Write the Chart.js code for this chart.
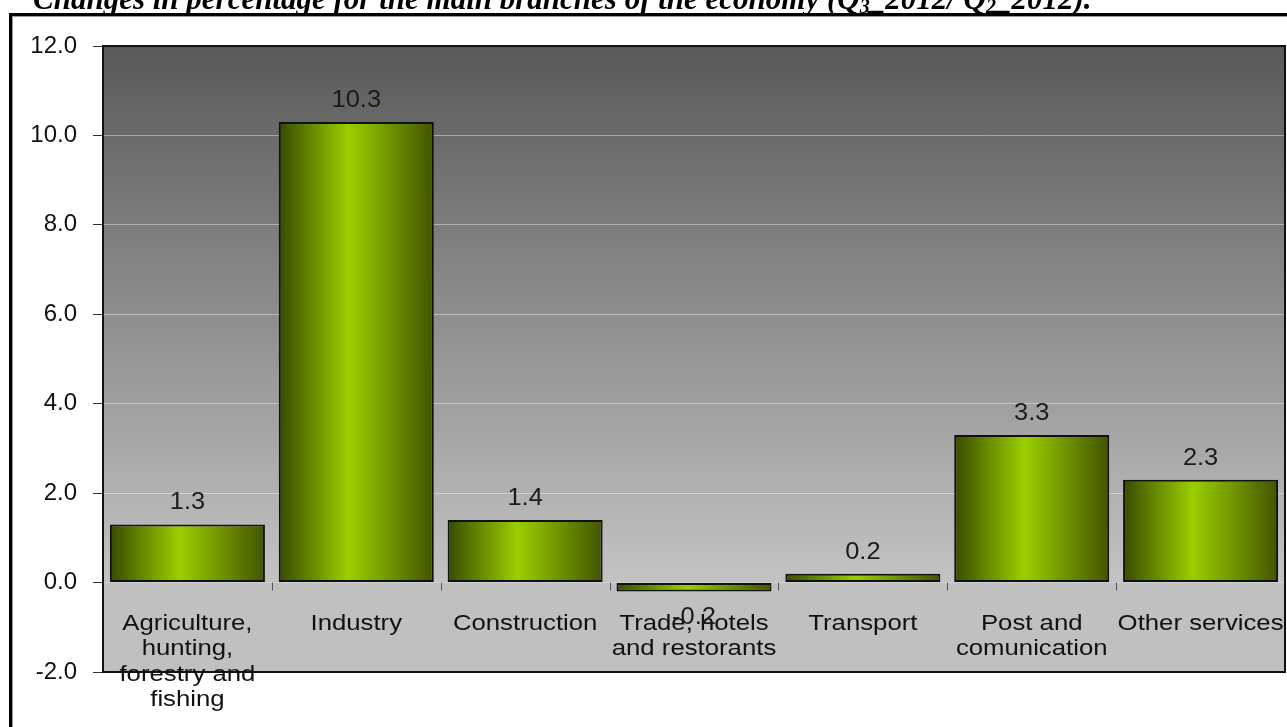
<!DOCTYPE html>
<html><head><meta charset="utf-8">
<script src="https://cdn.jsdelivr.net/npm/chart.js@4.4.0/dist/chart.umd.min.js"></script>
<style>html,body{margin:0;padding:0;background:#fff;overflow:hidden}canvas{display:block}</style>
</head><body>
<canvas id="c" width="1287" height="727"></canvas>
<script>
const categories = [
  ["Agriculture,", "hunting,", "forestry and", "fishing"],
  ["Industry"],
  ["Construction"],
  ["Trade, hotels", "and restorants"],
  ["Transport"],
  ["Post and", "comunication"],
  ["Other services"]
];
const values = [1.3, 10.3, 1.4, -0.2, 0.2, 3.3, 2.3];
const yMin = -2, yMax = 12, yStep = 2;
const titleParts = [
  ["Changes in percentage for the main branches of the economy (Q", false],
  ["3", true],
  ["_2012/ Q", false],
  ["2", true],
  ["_2012).", false]
];

const BAR_PCT = 0.918;
const SANS = '"Liberation Sans", Arial, sans-serif';

function barFill(c) {
  const chart = c.chart, xs = chart.scales.x;
  if (!xs || !xs.width) return '#8fbf00';
  const cw = xs.width / categories.length, w = cw * BAR_PCT;
  const cx = xs.getPixelForValue(c.dataIndex);
  const g = chart.ctx.createLinearGradient(cx - w / 2, 0, cx + w / 2, 0);
  g.addColorStop(0, '#384a00');
  g.addColorStop(0.45, '#9bcf00');
  g.addColorStop(1, '#425400');
  return g;
}

const decor = {
  id: 'decor',
  beforeDraw(chart) {
    const ctx = chart.ctx, a = chart.chartArea, ys = chart.scales.y;
    const y0 = ys.getPixelForValue(0);
    ctx.save();
    // title (cut at top)
    ctx.fillStyle = '#000';
    ctx.textBaseline = 'alphabetic';
    let x = 33;
    for (const [t, sub] of titleParts) {
      ctx.font = sub ? 'bold italic 20px "Liberation Serif", "Times New Roman", serif'
                     : 'bold italic 31px "Liberation Serif", "Times New Roman", serif';
      ctx.fillText(t, x, sub ? 13 : 9);
      x += ctx.measureText(t).width;
    }
    // outer frame
    ctx.fillStyle = '#000';
    ctx.fillRect(9, 13, 1290, 3);
    ctx.fillRect(9, 13, 3, 720);
    ctx.fillStyle = '#9a9a9a';
    ctx.fillRect(12, 16, 1290, 1);
    ctx.fillRect(12, 16, 1, 720);
    // plot background
    const g = ctx.createLinearGradient(0, a.top, 0, y0);
    g.addColorStop(0, '#595959');
    g.addColorStop(1, '#c3c3c3');
    ctx.fillStyle = g;
    ctx.fillRect(a.left, a.top, a.right - a.left, y0 - a.top);
    ctx.fillStyle = '#c0c0c0';
    ctx.fillRect(a.left, y0, a.right - a.left, a.bottom - y0);
    ctx.restore();
  },
  afterDatasetsDraw(chart) {
    const ctx = chart.ctx, a = chart.chartArea, xs = chart.scales.x, ys = chart.scales.y;
    const y0 = ys.getPixelForValue(0);
    const cw = xs.width / categories.length;
    ctx.save();
    // category boundary ticks at zero line
    ctx.strokeStyle = '#555';
    ctx.lineWidth = 1;
    for (let i = 1; i < categories.length; i++) {
      const bx = Math.round(xs.getPixelForValue(i) - cw / 2) + 0.5;
      ctx.beginPath(); ctx.moveTo(bx, y0); ctx.lineTo(bx, y0 + 8); ctx.stroke();
    }
    // category labels
    ctx.fillStyle = '#111';
    ctx.textAlign = 'center';
    ctx.textBaseline = 'alphabetic';
    ctx.font = '22px ' + SANS;
    categories.forEach((lines, i) => {
      const cx = xs.getPixelForValue(i);
      lines.forEach((ln, k) => {
        ctx.save();
        ctx.translate(cx, y0 + 47 + k * 25.5);
        ctx.scale(1.17, 1);
        ctx.fillText(ln, 0, 0);
        ctx.restore();
      });
    });
    // value labels
    ctx.fillStyle = '#1a1a1a';
    ctx.font = '24px ' + SANS;
    const meta = chart.getDatasetMeta(0);
    meta.data.forEach((el, i) => {
      const v = values[i];
      const txt = v.toFixed(1);
      ctx.save();
      if (v >= 0) { ctx.textBaseline = 'alphabetic'; ctx.translate(el.x, el.y - 15); }
      else { ctx.textBaseline = 'top'; ctx.translate(el.x, el.y + 14); }
      ctx.scale(1.06, 1);
      ctx.fillText(txt, 0, 0);
      ctx.restore();
    });
    // plot frame
    ctx.strokeStyle = '#111';
    ctx.lineWidth = 2;
    ctx.strokeRect(a.left, a.top, a.right - a.left, a.bottom - a.top);
    ctx.restore();
  }
};

new Chart(document.getElementById('c'), {
  type: 'bar',
  data: {
    labels: categories,
    datasets: [{
      data: values,
      backgroundColor: barFill,
      borderColor: '#111',
      borderWidth: 2,
      borderSkipped: false,
      barPercentage: BAR_PCT,
      categoryPercentage: 1
    }]
  },
  options: {
    responsive: false,
    animation: false,
    devicePixelRatio: 1,
    layout: { padding: { top: 46, bottom: 55, left: 0, right: 2 } },
    plugins: { legend: { display: false }, tooltip: { enabled: false }, title: { display: false } },
    scales: {
      x: { display: false, offset: true },
      y: {
        min: yMin, max: yMax,
        afterFit(s) { s.width = 103; },
        border: { display: false },
        grid: {
          color: (c) => (c.tick && (c.tick.value === 0 || c.tick.value === yMin || c.tick.value === yMax)) ? 'rgba(0,0,0,0)' : 'rgba(255,255,255,0.4)',
          lineWidth: 1,
          tickColor: '#333',
          tickLength: 10,
          drawTicks: true
        },
        ticks: {
          stepSize: yStep,
          padding: 16,
          color: '#111',
          font: { family: SANS, size: 24 },
          callback: (v) => Number(v).toFixed(1)
        }
      }
    }
  },
  plugins: [decor]
});
</script>
</body></html>
